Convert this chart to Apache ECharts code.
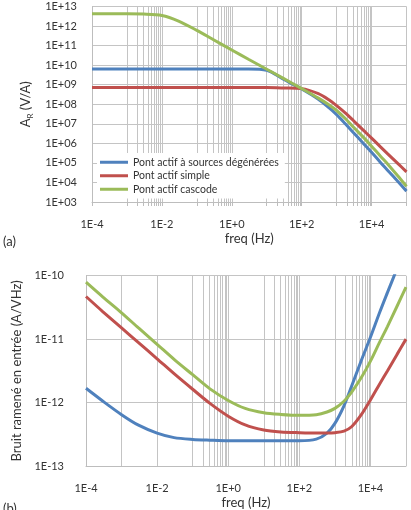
<!DOCTYPE html>
<html><head><meta charset="utf-8">
<script src="https://cdn.jsdelivr.net/npm/echarts@6/dist/echarts.min.js"></script>
<style>html,body{margin:0;padding:0;background:#fff}#c{width:411px;height:510px}</style>
</head><body><div id="c"></div>
<script>
// Frequencies (Hz)
const freq = [1e-4,3e-4,1e-3,3e-3,1e-2,3e-2,1e-1,3e-1,1,3,10,30,100,300,600,1000,1800,3000,5600,1e4,1.8e4,3e4,5.6e4,1e5];
const names = ['Pont actif à sources dégénérées','Pont actif simple','Pont actif cascode'];

// (a) transimpedance gain A_R (V/A)
const gainDegen   = [6.3e9,6.3e9,6.3e9,6.3e9,6.3e9,6.3e9,6.3e9,6.3e9,6.3e9,6.3e9,5.5e9,1.9e9,6.0e8,1.8e8,6.7e7,2.95e7,9.8e6,3.6e6,1.08e6,3.5e5,1.06e5,3.9e4,1.14e4,3.6e3];
const gainSimple  = [7.1e8,7.1e8,7.1e8,7.1e8,7.1e8,7.1e8,7.1e8,7.1e8,7.1e8,7.1e8,7.1e8,6.8e8,6.3e8,3.5e8,1.7e8,8.5e7,3.5e7,1.48e7,5.0e6,1.86e6,6.6e5,2.75e5,9.5e4,3.5e4];
const gainCascode = [4.2e12,4.2e12,4.2e12,4.1e12,3.5e12,1.8e12,6.0e11,2.0e11,6.0e10,2.0e10,6.2e9,2.1e9,6.3e8,2.05e8,9.4e7,4.8e7,1.8e7,6.8e6,2.2e6,7.2e5,2.2e5,8.1e4,2.2e4,6.3e3];

// (b) input-referred noise (A/VHz)
const noiseDegen   = [1.68e-12,1.05e-12,6.45e-13,4.4e-13,3.3e-13,2.8e-13,2.62e-13,2.55e-13,2.5e-13,2.5e-13,2.5e-13,2.5e-13,2.5e-13,2.65e-13,3.3e-13,4.7e-13,8.9e-13,1.86e-12,4.7e-12,1.07e-11,2.6e-11,5.4e-11,1.3e-10,3.0e-10];
const noiseSimple  = [4.7e-11,2.7e-11,1.5e-11,8.8e-12,4.9e-12,2.85e-12,1.62e-12,9.8e-13,6.1e-13,4.45e-13,3.7e-13,3.45e-13,3.35e-13,3.3e-13,3.3e-13,3.35e-13,3.55e-13,4.2e-13,6.5e-13,1.1e-12,1.95e-12,3.15e-12,5.75e-12,1.0e-11];
const noiseCascode = [7.9e-11,4.6e-11,2.6e-11,1.5e-11,8.3e-12,4.8e-12,2.75e-12,1.66e-12,1.08e-12,8.1e-13,6.9e-13,6.5e-13,6.3e-13,6.45e-13,7.1e-13,8.1e-13,1.05e-12,1.48e-12,2.5e-12,4.5e-12,8.9e-12,1.58e-11,3.3e-11,6.6e-11];

const colors = ['#4F81BD','#C0504D','#9BBB59'];
const FONT = 'Lato';
const gridCol = '#c4c4c4';

// minor vertical grid: k * 10^odd
const minorVals = [];
[-3,-1,1,3].forEach(e => { for (let k = 2; k <= 9; k++) minorVals.push(k * Math.pow(10, e)); });
const minorLines = minorVals.map(v => ({xAxis: v}));
const decadeVals = [];
for (let e = -4; e <= 5; e++) decadeVals.push(Math.pow(10, e));
const tickVals = decadeVals.concat(minorVals).sort((a, b) => a - b);

const expOf = v => Math.round(Math.log10(v));
const yFmt = v => { const e = expOf(v); return '1E' + (e >= 0 ? '+' : '-') + String(Math.abs(e)).padStart(2, '0'); };
const xFmt = v => { const e = expOf(v); if (e % 2 !== 0) return ''; return '1E' + (e >= 0 ? '+' : '-') + Math.abs(e); };

function xAxisCfg(gi, ticks) {
  const tick = {show: ticks, length: 4, lineStyle: {color: '#bdbdbd'}};
  if (ticks) tick.customValues = tickVals;
  return {
    type: 'log', gridIndex: gi, min: 1e-4, max: 1e5, logBase: 10, splitNumber: 10,
    axisLine: {lineStyle: {color: '#bdbdbd'}},
    axisTick: tick,
    splitLine: {show: true, lineStyle: {color: gridCol, width: 1}},
    axisLabel: {formatter: xFmt, fontFamily: FONT, fontSize: 11, color: '#333', margin: 17, showMinLabel: true, showMaxLabel: true},
    name: 'freq (Hz)', nameLocation: 'middle', nameGap: 30,
    nameTextStyle: {fontFamily: FONT, fontSize: 13, color: '#333'}
  };
}

function mk(data, gi, idx, withGrid) {
  const s = {
    type: 'line', name: names[idx], xAxisIndex: gi, yAxisIndex: gi,
    data: freq.map((f, i) => [f, data[i]]),
    showSymbol: false, symbol: 'none', smooth: 0.3,
    lineStyle: {color: colors[idx], width: 3}, itemStyle: {color: colors[idx]},
    clip: true, z: 3
  };
  if (withGrid) {
    s.markLine = {silent: true, symbol: 'none', z: 1, label: {show: false}, animation: false,
      lineStyle: {color: gridCol, width: 1, type: 'solid'}, emphasis: {disabled: true},
      data: minorLines};
  }
  return s;
}

const chart = echarts.init(document.getElementById('c'), null, {renderer: 'canvas'});
chart.setOption({
  animation: false,
  backgroundColor: '#fff',
  grid: [
    {left: 92, right: 4.5, top: 6.5, height: 195.5},
    {left: 86, right: 5, top: 275.7, height: 192.6}
  ],
  xAxis: [xAxisCfg(0, true), xAxisCfg(1, false)],
  yAxis: [
    {type: 'log', gridIndex: 0, min: 1e3, max: 1e13, logBase: 10, splitNumber: 10, interval: 1,
      axisLine: {show: true, lineStyle: {color: '#bdbdbd'}}, axisTick: {show: false},
      splitLine: {show: true, lineStyle: {color: gridCol}},
      axisLabel: {formatter: yFmt, fontFamily: FONT, fontSize: 11, color: '#333', margin: 15},
      name: '{m|A}{s|R}{m| (V/A)}', nameLocation: 'middle', nameGap: 56, nameRotate: 90,
      nameTextStyle: {rich: {
        m: {fontFamily: FONT, fontSize: 13, color: '#333', lineHeight: 16},
        s: {fontFamily: FONT, fontSize: 8, color: '#333', lineHeight: 10, verticalAlign: 'bottom'}
      }}},
    {type: 'log', gridIndex: 1, min: 1e-13, max: 1e-10, logBase: 10, splitNumber: 10,
      axisLine: {show: true, lineStyle: {color: '#bdbdbd'}}, axisTick: {show: false},
      splitLine: {show: true, lineStyle: {color: gridCol}},
      axisLabel: {formatter: yFmt, fontFamily: FONT, fontSize: 11, color: '#333', margin: 22},
      name: 'Bruit ramené en entrée (A/VHz)', nameLocation: 'middle', nameGap: 50, nameRotate: 90,
      nameTextStyle: {fontFamily: FONT, fontSize: 13, color: '#333'}}
  ],
  legend: {
    data: names, orient: 'vertical', left: 97, top: 153, icon: 'rect',
    itemWidth: 28, itemHeight: 3, itemGap: 1, backgroundColor: '#fff',
    padding: [3, 6, 3, 3], selectedMode: false,
    textStyle: {fontFamily: FONT, fontSize: 10.5, color: '#333', lineHeight: 12.5}
  },
  graphic: [
    {type: 'text', left: 3, top: 235, style: {text: '(a)', font: '13px Lato', fill: '#333'}},
    {type: 'text', left: 3, top: 502, style: {text: '(b)', font: '13px Lato', fill: '#333'}}
  ],
  series: [
    mk(gainDegen, 0, 0, true), mk(gainSimple, 0, 1, false), mk(gainCascode, 0, 2, false),
    mk(noiseDegen, 1, 0, true), mk(noiseSimple, 1, 1, false), mk(noiseCascode, 1, 2, false)
  ]
});
</script></body></html>
